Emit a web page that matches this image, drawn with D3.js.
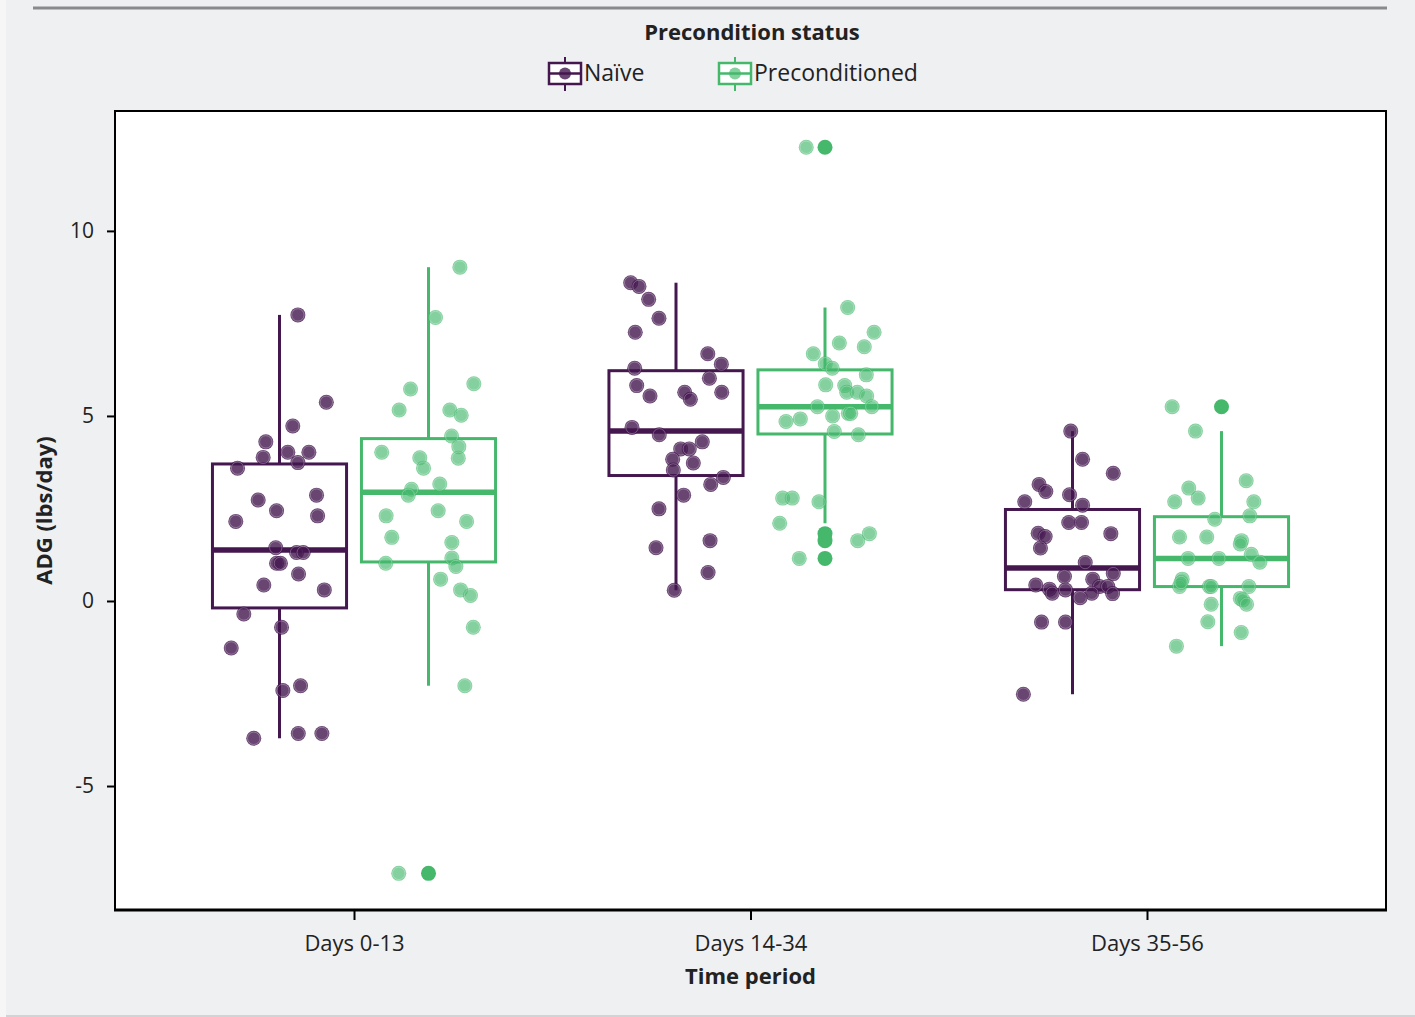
<!DOCTYPE html>
<html>
<head>
<meta charset="utf-8">
<script src="https://cdn.jsdelivr.net/npm/d3@7"></script>
<style>
  html, body { margin: 0; padding: 0; background: #eff0f2; }
  svg { display: block; }
  text { font-family: "Open Sans", "Noto Sans", sans-serif; fill: #222; }
</style>
</head>
<body>
<svg id="chart" width="1415" height="1017"></svg>
<script>
// ---------------- data ----------------
const categories = ["Days 0-13", "Days 14-34", "Days 35-56"];
const series = ["Naïve", "Preconditioned"];
const yTicks = [-5, 0, 5, 10];
const yTickLabels = ["-5", "0", "5", "10"];

// ADG values (lbs/day) per time period, Naïve
const naiveValues = [
  [7.73, 5.37, 4.73, 4.30, 3.88, 4.02, 4.02, 3.74, 3.59, 2.73, 2.86, 2.44, 2.15, 2.30, 1.44, 1.31, 1.31, 1.02, 1.02, 0.73, 0.43, 0.30, -0.35, -0.71, -1.27, -2.42, -2.29, -3.71, -3.58, -3.58],
  [8.60, 8.50, 8.15, 7.64, 7.26, 6.68, 6.40, 6.29, 6.02, 5.82, 5.54, 5.64, 5.64, 5.45, 4.69, 4.49, 4.11, 4.11, 4.30, 3.83, 3.73, 3.54, 3.34, 3.15, 2.86, 2.49, 1.63, 1.44, 0.77, 0.29],
  [4.59, 3.83, 3.45, 3.15, 2.96, 2.68, 2.87, 2.59, 2.12, 2.12, 1.83, 1.74, 1.82, 1.43, 1.04, 0.74, 0.66, 0.59, 0.43, 0.39, 0.39, 0.32, 0.21, 0.30, 0.21, 0.09, 0.20, -0.57, -0.57, -2.52]
];
// horizontal jitter of each Naïve point, as a fraction of the box width
const naiveJitter = [
  [0.137, 0.349, 0.099, -0.102, -0.122, 0.062, 0.219, 0.137, -0.313, -0.159, 0.276, -0.022, -0.326, 0.284, -0.028, 0.127, 0.177, -0.022, 0.007, 0.142, -0.117, 0.334, -0.266, 0.015, -0.360, 0.025, 0.157, -0.192, 0.140, 0.316],
  [-0.338, -0.276, -0.204, -0.127, -0.304, 0.237, 0.338, -0.308, 0.249, -0.293, -0.194, 0.341, 0.065, 0.107, -0.328, -0.125, 0.035, 0.099, 0.196, -0.025, 0.129, -0.020, 0.353, 0.259, 0.057, -0.127, 0.254, -0.149, 0.239, -0.013],
  [-0.013, 0.075, 0.304, -0.249, -0.199, -0.356, -0.022, 0.075, -0.028, 0.067, -0.256, -0.204, 0.286, -0.239, 0.095, 0.304, -0.060, 0.151, -0.274, 0.201, 0.263, -0.172, -0.151, -0.052, 0.144, 0.057, 0.299, -0.231, -0.052, -0.366]
];
// ADG values (lbs/day) per time period, Preconditioned
const precondValues = [
  [9.02, 7.66, 5.73, 5.87, 5.16, 5.16, 5.02, 4.46, 4.17, 3.86, 4.02, 3.87, 3.59, 3.16, 3.02, 2.86, 2.30, 2.44, 2.15, 1.72, 1.58, 1.02, 1.16, 0.93, 0.59, 0.30, 0.15, -0.71, -2.29, -7.36],
  [12.26, 7.93, 7.26, 6.97, 6.87, 6.68, 6.41, 6.29, 6.11, 5.84, 5.82, 5.64, 5.64, 5.54, 5.25, 5.25, 5.00, 5.07, 5.07, 4.92, 4.85, 4.58, 4.49, 2.78, 2.78, 2.68, 2.10, 1.63, 1.82, 1.15],
  [5.25, 4.59, 3.25, 3.05, 2.78, 2.68, 2.68, 2.30, 2.21, 1.73, 1.73, 1.63, 1.54, 1.15, 1.15, 1.26, 1.05, 0.59, 0.39, 0.50, 0.39, 0.39, 0.39, 0.07, 0.03, -0.09, -0.09, -0.56, -0.85, -1.22]
];
const precondJitter = [
  [0.234, 0.052, -0.134, 0.338, -0.219, 0.159, 0.244, 0.172, 0.226, 0.222, -0.349, -0.065, -0.037, 0.084, -0.127, -0.151, -0.316, 0.072, 0.284, -0.274, 0.174, -0.319, 0.174, 0.204, 0.090, 0.239, 0.313, 0.334, 0.271, -0.222],
  [-0.140, 0.169, 0.366, 0.107, 0.293, -0.087, 0.002, 0.054, 0.308, 0.005, 0.147, 0.162, 0.241, 0.311, -0.057, 0.349, 0.057, 0.174, 0.192, -0.184, -0.291, 0.069, 0.249, -0.316, -0.244, -0.045, -0.338, 0.244, 0.331, -0.192],
  [-0.368, -0.194, 0.184, -0.244, -0.174, -0.349, 0.241, 0.211, -0.050, -0.313, -0.110, 0.149, 0.140, -0.249, -0.020, 0.222, 0.286, -0.293, -0.313, -0.301, -0.090, -0.077, 0.204, 0.140, 0.159, 0.187, -0.077, -0.102, 0.147, -0.336]
];

const seriesValues = [naiveValues, precondValues];
const seriesJitter = [naiveJitter, precondJitter];
const colors = ["#44174f", "#45b86c"];
const pointAlpha = [0.8, 0.66];

// ---------------- layout ----------------
const svg = d3.select("#chart");
const W = 1415, H = 1017;
const plot = { left: 115, right: 1386, top: 111, bottom: 910 };

// background details
svg.append("rect").attr("x", 0).attr("y", 0).attr("width", W).attr("height", H).attr("fill", "#eff0f2");
svg.append("rect").attr("x", 0).attr("y", 0).attr("width", 6).attr("height", H).attr("fill", "#f6f6f7");
svg.append("line").attr("x1", 33).attr("x2", 1387).attr("y1", 8).attr("y2", 8)
  .attr("stroke", "#888a8c").attr("stroke-width", 3);
svg.append("line").attr("x1", 6).attr("x2", W).attr("y1", 1016).attr("y2", 1016)
  .attr("stroke", "#d2d3d5").attr("stroke-width", 2);

// panel
svg.append("rect").attr("x", plot.left).attr("y", plot.top)
  .attr("width", plot.right - plot.left).attr("height", plot.bottom - plot.top)
  .attr("fill", "#ffffff").attr("stroke", "#000").attr("stroke-width", 2);

// scales
const x = d3.scalePoint().domain(categories).range([plot.left, plot.right]).padding(0.6028);
const dodge = d3.scaleBand().domain(series).range([-149, 149]).padding(0);
const boxW = dodge.bandwidth() * 0.9;
const y = d3.scaleLinear().domain([-8.35, 13.24]).range([plot.bottom, plot.top]);

// axes
const yAxis = svg.append("g").attr("transform", `translate(${plot.left},0)`)
  .call(d3.axisLeft(y).tickValues(yTicks).tickSize(8).tickPadding(13)
    .tickFormat((d, i) => yTickLabels[i]));
yAxis.select(".domain").remove();
yAxis.selectAll(".tick line").attr("stroke", "#000").attr("stroke-width", 2);
yAxis.selectAll(".tick text").attr("font-size", 21).attr("fill", "#333")
  .style("font-family", "'Open Sans', 'Noto Sans', sans-serif");

const xAxis = svg.append("g").attr("transform", `translate(0,${plot.bottom})`)
  .call(d3.axisBottom(x).tickSize(10).tickPadding(15));
xAxis.select(".domain").attr("stroke", "#000").attr("stroke-width", 3)
  .attr("d", `M${plot.left - 1},0H${plot.right + 1}`);
xAxis.selectAll(".tick line").attr("stroke", "#000").attr("stroke-width", 2);
xAxis.selectAll(".tick text").attr("font-size", 22).attr("fill", "#333")
  .style("font-family", "'Open Sans', 'Noto Sans', sans-serif");

// axis titles
svg.append("text").attr("x", (plot.left + plot.right) / 2).attr("y", 984)
  .attr("text-anchor", "middle").attr("font-size", 22).attr("font-weight", "bold").text("Time period");
svg.append("text").attr("transform", `translate(52,${(plot.top + plot.bottom) / 2}) rotate(-90)`)
  .attr("text-anchor", "middle").attr("font-size", 22).attr("font-weight", "bold").text("ADG (lbs/day)");

// ---------------- boxplots ----------------
function stats(vals) {
  const s = vals.slice().sort(d3.ascending);
  const q1 = d3.quantile(s, 0.25), med = d3.quantile(s, 0.5), q3 = d3.quantile(s, 0.75);
  const iqr = q3 - q1;
  const lo = d3.min(s.filter(v => v >= q1 - 1.5 * iqr));
  const hi = d3.max(s.filter(v => v <= q3 + 1.5 * iqr));
  const out = s.filter(v => v < lo || v > hi);
  return { q1, med, q3, lo, hi, out };
}

const gBoxes = svg.append("g");
const gPoints = svg.append("g");

series.forEach((sName, si) => {
  categories.forEach((cat, ci) => {
    const vals = seriesValues[si][ci];
    const st = stats(vals);
    const cx = x(cat) + dodge(sName) + dodge.bandwidth() / 2;
    const col = colors[si];
    const g = gBoxes.append("g");
    // whiskers
    g.append("line").attr("x1", cx).attr("x2", cx).attr("y1", y(st.q3)).attr("y2", y(st.hi))
      .attr("stroke", col).attr("stroke-width", 3);
    g.append("line").attr("x1", cx).attr("x2", cx).attr("y1", y(st.q1)).attr("y2", y(st.lo))
      .attr("stroke", col).attr("stroke-width", 3);
    // box
    g.append("rect").attr("x", cx - boxW / 2).attr("y", y(st.q3))
      .attr("width", boxW).attr("height", y(st.q1) - y(st.q3))
      .attr("fill", "#ffffff").attr("stroke", col).attr("stroke-width", 3);
    // median
    g.append("line").attr("x1", cx - boxW / 2).attr("x2", cx + boxW / 2)
      .attr("y1", y(st.med)).attr("y2", y(st.med))
      .attr("stroke", col).attr("stroke-width", 5.5);
    // outliers
    st.out.forEach(v => {
      g.append("circle").attr("cx", cx).attr("cy", y(v)).attr("r", 7.5).attr("fill", col);
    });
    // jittered points
    vals.forEach((v, i) => {
      const px = cx + seriesJitter[si][ci][i] * boxW;
      const py = y(v);
      gPoints.append("circle").attr("cx", px).attr("cy", py).attr("r", 7.5)
        .attr("fill", col).attr("fill-opacity", pointAlpha[si]);
      gPoints.append("circle").attr("cx", px).attr("cy", py).attr("r", 6.2)
        .attr("fill", "none").attr("stroke", "#ffffff").attr("stroke-opacity", 0.3).attr("stroke-width", 0.9);
    });
  });
});

// ---------------- legend ----------------
svg.append("text").attr("x", 752).attr("y", 40).attr("text-anchor", "middle")
  .attr("font-size", 22).attr("font-weight", "bold").text("Precondition status");

const legendX = [549, 719];
series.forEach((sName, si) => {
  const lx = legendX[si], col = colors[si];
  const g = svg.append("g");
  const mid = lx + 16;
  g.append("line").attr("x1", mid).attr("x2", mid).attr("y1", 57).attr("y2", 91)
    .attr("stroke", col).attr("stroke-width", 2);
  g.append("rect").attr("x", lx).attr("y", 63).attr("width", 32).attr("height", 21)
    .attr("fill", "#ffffff").attr("stroke", col).attr("stroke-width", 2.5);
  g.append("line").attr("x1", lx).attr("x2", lx + 32).attr("y1", 73.5).attr("y2", 73.5)
    .attr("stroke", col).attr("stroke-width", 2.5);
  g.append("circle").attr("cx", mid).attr("cy", 73.5).attr("r", 6)
    .attr("fill", col).attr("fill-opacity", pointAlpha[si]);
  g.append("text").attr("x", lx + 35).attr("y", 81).attr("font-size", 23).attr("fill", "#222").text(sName);
});
</script>
</body>
</html>
